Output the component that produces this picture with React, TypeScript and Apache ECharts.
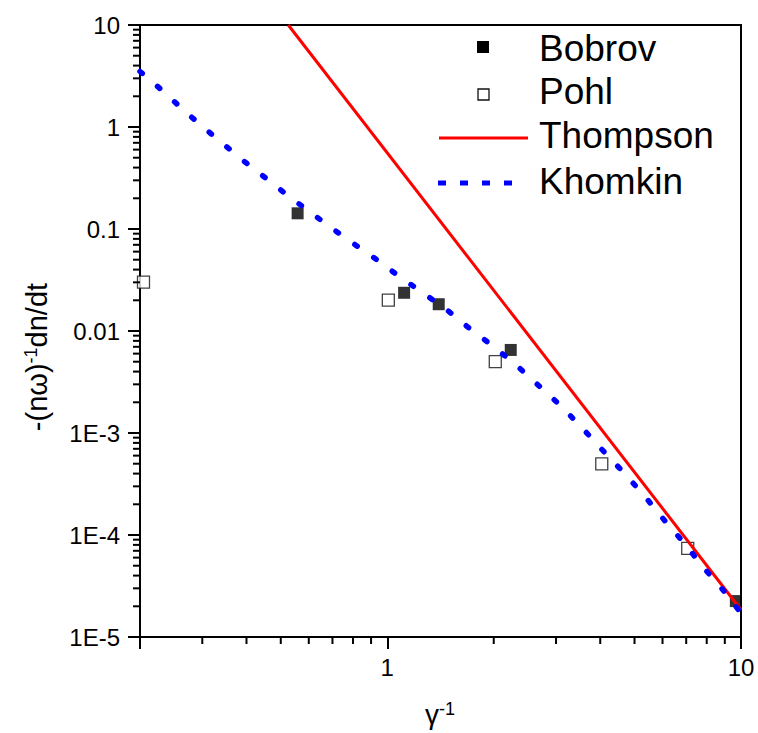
import React, { useEffect, useRef } from "react";
import * as echarts from "echarts";

const FONT = '"Liberation Sans", Arial, sans-serif';

// Axis ranges and tick labels
const X_MIN = 0.2;
const X_MAX = 10;
const Y_MIN = 1e-5;
const Y_MAX = 10;
const xTickValues = [1, 10];
const xTickLabels = ["1", "10"];
const yTickValues = [1e-5, 1e-4, 1e-3, 0.01, 0.1, 1, 10];
const yTickLabels = ["1E-5", "1E-4", "1E-3", "0.01", "0.1", "1", "10"];
const minorMultipliers = [2, 3, 4, 5, 6, 7, 8, 9];
const xMinorDecades = [0.1, 1];
const yMinorDecades = [1e-5, 1e-4, 1e-3, 0.01, 0.1, 1];

// Series data
const bobrovX = [0.558, 1.116, 1.398, 2.234, 9.67];
const bobrovY = [0.1425, 0.0237, 0.0183, 0.00652, 2.25e-5];

const pohlX = [0.2046, 1.007, 2.02, 4.04, 7.07];
const pohlY = [0.0302, 0.0201, 0.005, 4.97e-4, 7.41e-5];

const thompsonX = [0.525, 10];
const thompsonY = [10, 1.85e-5];

const khomkinX = [
  0.2, 0.2182, 0.2389, 0.2642, 0.2918, 0.3238, 0.3587, 0.4067, 0.4611, 0.5175,
  0.5958, 0.689, 0.8055, 0.936, 1.087, 1.262, 1.476, 1.703, 1.979, 2.313, 2.687,
  3.12, 3.601, 4.129, 4.733, 5.391, 6.101, 6.905, 7.815, 8.845, 10,
];
const khomkinY = [
  3.5, 2.72, 2.05, 1.49, 1.1, 0.811, 0.604, 0.421, 0.302, 0.219, 0.1526, 0.1047,
  0.0713, 0.0497, 0.0338, 0.0236, 0.01607, 0.01069, 0.00721, 0.00464, 0.00289,
  0.0018, 0.00107, 6.37e-4, 3.87e-4, 2.31e-4, 1.37e-4, 8.35e-5, 4.85e-5, 2.96e-5,
  1.72e-5,
];

const legendNames = ["Bobrov", "Pohl", "Thompson", "Khomkin"];
const xTitle = "γ";
const xTitleSup = "-1";
const yTitleA = "-(nω)";
const yTitleSup = "-1";
const yTitleB = "dn/dt";

const zip = (xs: number[], ys: number[]) => xs.map((x, i) => [x, ys[i]]);

const labelFor = (values: number[], labels: string[]) => (v: number) => {
  const i = values.findIndex(
    (t) => Math.abs(Math.log10(t) - Math.log10(v)) < 1e-6
  );
  return i >= 0 ? labels[i] : "";
};

export default function App() {
  const ref = useRef<HTMLDivElement>(null);

  useEffect(() => {
    if (!ref.current) return;
    const chart = echarts.init(ref.current, undefined, { renderer: "svg" });

    const xMinor: number[][] = [];
    xMinorDecades.forEach((d) =>
      minorMultipliers.forEach((m) => {
        const v = +(m * d).toPrecision(6);
        if (v >= X_MIN && v <= X_MAX) xMinor.push([v, Y_MIN]);
      })
    );
    const yMinor: number[][] = [];
    yMinorDecades.forEach((d) =>
      minorMultipliers.forEach((m) => {
        const v = +(m * d).toPrecision(6);
        if (v >= Y_MIN && v <= Y_MAX) yMinor.push([X_MIN, v]);
      })
    );

    const legendX = 539;
    const legendY = [48, 91, 135, 181];

    const option: any = {
      animation: false,
      backgroundColor: "#fff",
      grid: {
        left: 140,
        top: 25,
        right: 17,
        bottom: 96,
        show: true,
        borderColor: "#000",
        borderWidth: 2,
        backgroundColor: "transparent",
      },
      xAxis: {
        type: "log",
        logBase: 10,
        min: X_MIN,
        max: X_MAX,
        axisLine: { show: true, lineStyle: { color: "#000", width: 2 } },
        axisTick: { show: true, length: 12, lineStyle: { color: "#000", width: 2 } },
        minorTick: { show: false },
        splitLine: { show: false },
        axisLabel: {
          formatter: labelFor(xTickValues, xTickLabels),
          fontSize: 24,
          fontFamily: FONT,
          color: "#000",
          margin: 18,
          showMinLabel: true,
          showMaxLabel: true,
        },
      },
      yAxis: {
        type: "log",
        logBase: 10,
        min: Y_MIN,
        max: Y_MAX,
        axisLine: { show: true, lineStyle: { color: "#000", width: 2 } },
        axisTick: { show: true, length: 12, lineStyle: { color: "#000", width: 2 } },
        minorTick: { show: false },
        splitLine: { show: false },
        axisLabel: {
          formatter: labelFor(yTickValues, yTickLabels),
          fontSize: 24,
          fontFamily: FONT,
          color: "#000",
          margin: 20,
        },
      },
      series: [
        {
          type: "custom",
          name: "xminor",
          silent: true,
          clip: false,
          data: xMinor,
          renderItem: (params: any, api: any) => {
            const p = api.coord([api.value(0), api.value(1)]);
            return {
              type: "line",
              shape: { x1: p[0], y1: p[1], x2: p[0], y2: p[1] + 7 },
              style: { stroke: "#000", lineWidth: 2 },
            };
          },
          z: 5,
        },
        {
          type: "custom",
          name: "yminor",
          silent: true,
          clip: false,
          data: yMinor,
          renderItem: (params: any, api: any) => {
            const p = api.coord([api.value(0), api.value(1)]);
            return {
              type: "line",
              shape: { x1: p[0], y1: p[1], x2: p[0] - 7, y2: p[1] },
              style: { stroke: "#000", lineWidth: 2 },
            };
          },
          z: 5,
        },
        {
          type: "scatter",
          name: legendNames[0],
          data: zip(bobrovX, bobrovY),
          symbol: "rect",
          symbolSize: 12,
          itemStyle: { color: "#000" },
          z: 2,
        },
        {
          type: "scatter",
          name: legendNames[1],
          data: zip(pohlX, pohlY),
          symbol: "rect",
          symbolSize: 12,
          itemStyle: { color: "#fff", borderColor: "#111", borderWidth: 1.3 },
          z: 2,
        },
        {
          type: "line",
          name: legendNames[2],
          data: zip(thompsonX, thompsonY),
          showSymbol: false,
          symbol: "none",
          lineStyle: { color: "#ff0000", width: 3 },
          z: 3,
        },
        {
          type: "line",
          name: legendNames[3],
          data: zip(khomkinX, khomkinY),
          showSymbol: false,
          symbol: "none",
          lineStyle: {
            color: "#0000ff",
            width: 5.5,
            type: [3, 20],
            cap: "round",
          },
          z: 3,
        },
      ],
      graphic: [
        {
          type: "rect",
          shape: { x: 477, y: 41, width: 12, height: 12 },
          style: { fill: "#000" },
        },
        {
          type: "rect",
          shape: { x: 478, y: 89, width: 11, height: 11 },
          style: { fill: "#fff", stroke: "#111", lineWidth: 1.3 },
        },
        {
          type: "line",
          shape: { x1: 439, y1: 138, x2: 528, y2: 138 },
          style: { stroke: "#ff0000", lineWidth: 3 },
        },
        {
          type: "line",
          shape: { x1: 438, y1: 183, x2: 517, y2: 183 },
          style: { stroke: "#0000ff", lineWidth: 5, lineDash: [8, 14] },
        },
        ...legendNames.map((n, i) => ({
          type: "text",
          x: legendX,
          y: legendY[i],
          style: {
            text: n,
            font: `37px ${FONT}`,
            fill: "#000",
            align: "left",
            verticalAlign: "middle",
          },
        })),
        {
          type: "text",
          x: 440,
          y: 728,
          style: {
            text: `{a|${xTitle}}{s|${xTitleSup}}`,
            align: "center",
            verticalAlign: "bottom",
            rich: {
              a: { fontSize: 28, fontFamily: FONT, fill: "#000", verticalAlign: "bottom" },
              s: { fontSize: 18, fontFamily: FONT, fill: "#000", verticalAlign: "top" },
            },
          },
        },
        {
          type: "text",
          x: 51,
          y: 357,
          rotation: Math.PI / 2,
          style: {
            text: `{a|${yTitleA}}{s|${yTitleSup}}{a|${yTitleB}}`,
            align: "center",
            verticalAlign: "bottom",
            rich: {
              a: { fontSize: 29, fontFamily: FONT, fill: "#000", verticalAlign: "bottom" },
              s: { fontSize: 18, fontFamily: FONT, fill: "#000", verticalAlign: "top" },
            },
          },
        },
      ],
    };

    chart.setOption(option);
    return () => chart.dispose();
  }, []);

  return (
    <div
      ref={ref}
      style={{
        position: "fixed",
        left: 0,
        top: 0,
        width: 758,
        height: 733,
        background: "#fff",
      }}
    />
  );
}
